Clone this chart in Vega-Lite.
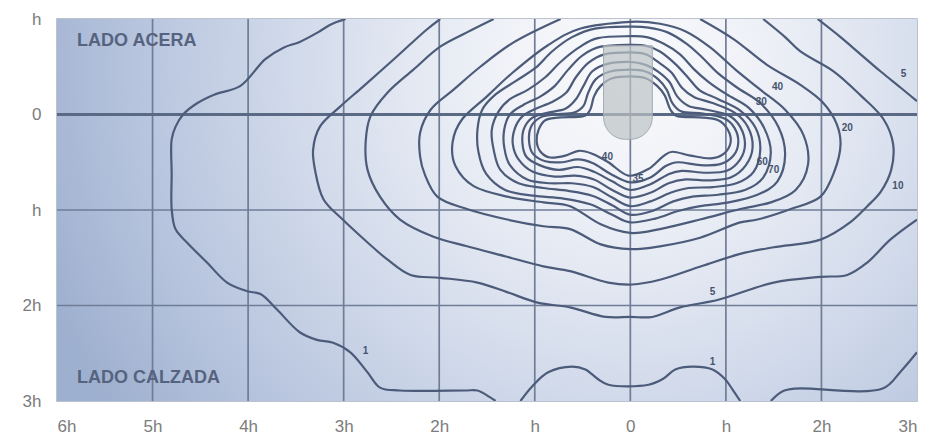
{
  "$schema": "https://vega.github.io/schema/vega-lite/v6.json",
  "width": 860,
  "height": 382,
  "autosize": {"type": "none"},
  "padding": {"left": 57, "top": 19, "right": 13, "bottom": 43},
  "background": "white",
  "datasets": {
    "abiertas": [
      {"c":"1a","x":-2.98,"y":-1},{"c":"1a","x":-3.14,"y":-0.94},{"c":"1a","x":-3.27,"y":-0.86},{"c":"1a","x":-3.46,"y":-0.76},{"c":"1a","x":-3.63,"y":-0.70},{"c":"1a","x":-3.82,"y":-0.58},{"c":"1a","x":-4.08,"y":-0.30},{"c":"1a","x":-4.35,"y":-0.21},{"c":"1a","x":-4.53,"y":-0.12},{"c":"1a","x":-4.68,"y":0},{"c":"1a","x":-4.76,"y":0.13},{"c":"1a","x":-4.80,"y":0.26},{"c":"1a","x":-4.80,"y":0.63},{"c":"1a","x":-4.80,"y":0.99},{"c":"1a","x":-4.76,"y":1.20},{"c":"1a","x":-4.64,"y":1.34},{"c":"1a","x":-4.43,"y":1.55},{"c":"1a","x":-4.22,"y":1.76},{"c":"1a","x":-4.01,"y":1.85},{"c":"1a","x":-3.87,"y":1.88},{"c":"1a","x":-3.70,"y":2.04},{"c":"1a","x":-3.46,"y":2.28},{"c":"1a","x":-3.28,"y":2.36},{"c":"1a","x":-3.11,"y":2.39},{"c":"1a","x":-2.93,"y":2.49},{"c":"1a","x":-2.75,"y":2.70},{"c":"1a","x":-2.62,"y":2.86},{"c":"1a","x":-2.41,"y":2.89},{"c":"1a","x":-1.73,"y":2.89},{"c":"1a","x":-1.60,"y":2.89},{"c":"1a","x":-1.47,"y":2.96},{"c":"1a","x":-1.41,"y":3.0},
      {"c":"1b","x":-1.15,"y":3.0},{"c":"1b","x":-1.03,"y":2.85},{"c":"1b","x":-0.86,"y":2.70},{"c":"1b","x":-0.61,"y":2.64},{"c":"1b","x":-0.47,"y":2.67},{"c":"1b","x":-0.34,"y":2.77},{"c":"1b","x":-0.23,"y":2.83},{"c":"1b","x":0.19,"y":2.83},{"c":"1b","x":0.34,"y":2.77},{"c":"1b","x":0.47,"y":2.67},{"c":"1b","x":0.65,"y":2.64},{"c":"1b","x":0.86,"y":2.67},{"c":"1b","x":0.99,"y":2.77},{"c":"1b","x":1.07,"y":2.88},{"c":"1b","x":1.15,"y":3.0},
      {"c":"1c","x":1.47,"y":3.0},{"c":"1c","x":1.59,"y":2.90},{"c":"1c","x":1.73,"y":2.87},{"c":"1c","x":2.64,"y":2.87},{"c":"1c","x":2.83,"y":2.69},{"c":"1c","x":3.0,"y":2.49},
      {"c":"5a","x":-1.99,"y":-1},{"c":"5a","x":-2.13,"y":-0.89},{"c":"5a","x":-2.44,"y":-0.61},{"c":"5a","x":-2.80,"y":-0.29},{"c":"5a","x":-3.04,"y":-0.08},{"c":"5a","x":-3.25,"y":0.13},{"c":"5a","x":-3.32,"y":0.37},{"c":"5a","x":-3.30,"y":0.58},{"c":"5a","x":-3.21,"y":0.89},{"c":"5a","x":-3.01,"y":1.10},{"c":"5a","x":-2.75,"y":1.34},{"c":"5a","x":-2.54,"y":1.52},{"c":"5a","x":-2.30,"y":1.68},{"c":"5a","x":-1.99,"y":1.71},{"c":"5a","x":-1.60,"y":1.76},{"c":"5a","x":-1.29,"y":1.86},{"c":"5a","x":-0.97,"y":1.97},{"c":"5a","x":-0.63,"y":2.02},{"c":"5a","x":-0.26,"y":2.12},{"c":"5a","x":0,"y":2.12},{"c":"5a","x":0.23,"y":2.12},{"c":"5a","x":0.52,"y":2.02},{"c":"5a","x":0.92,"y":1.94},{"c":"5a","x":1.50,"y":1.76},{"c":"5a","x":1.99,"y":1.70},{"c":"5a","x":2.27,"y":1.68},{"c":"5a","x":2.48,"y":1.55},{"c":"5a","x":2.72,"y":1.31},{"c":"5a","x":3.0,"y":1.10},
      {"c":"5b","x":1.96,"y":-1},{"c":"5b","x":2.20,"y":-0.81},{"c":"5b","x":2.41,"y":-0.63},{"c":"5b","x":2.62,"y":-0.45},{"c":"5b","x":2.83,"y":-0.28},{"c":"5b","x":3.0,"y":-0.14},
      {"c":"10","x":-1.43,"y":-1},{"c":"10","x":-1.71,"y":-0.86},{"c":"10","x":-1.99,"y":-0.71},{"c":"10","x":-2.27,"y":-0.47},{"c":"10","x":-2.54,"y":-0.23},{"c":"10","x":-2.72,"y":0.02},{"c":"10","x":-2.77,"y":0.29},{"c":"10","x":-2.75,"y":0.58},{"c":"10","x":-2.62,"y":0.86},{"c":"10","x":-2.41,"y":1.10},{"c":"10","x":-2.06,"y":1.28},{"c":"10","x":-1.71,"y":1.38},{"c":"10","x":-1.29,"y":1.49},{"c":"10","x":-0.91,"y":1.59},{"c":"10","x":-0.63,"y":1.64},{"c":"10","x":-0.23,"y":1.76},{"c":"10","x":0.02,"y":1.78},{"c":"10","x":0.31,"y":1.73},{"c":"10","x":0.71,"y":1.60},{"c":"10","x":1.15,"y":1.46},{"c":"10","x":1.50,"y":1.39},{"c":"10","x":1.99,"y":1.31},{"c":"10","x":2.30,"y":1.13},{"c":"10","x":2.48,"y":0.96},{"c":"10","x":2.62,"y":0.81},{"c":"10","x":2.73,"y":0.58},{"c":"10","x":2.75,"y":0.31},{"c":"10","x":2.65,"y":0.05},{"c":"10","x":2.41,"y":-0.20},{"c":"10","x":2.13,"y":-0.45},{"c":"10","x":1.78,"y":-0.66},{"c":"10","x":1.62,"y":-0.81},{"c":"10","x":1.39,"y":-1},
      {"c":"20","x":-0.73,"y":-1},{"c":"20","x":-1.23,"y":-0.75},{"c":"20","x":-1.57,"y":-0.50},{"c":"20","x":-1.85,"y":-0.26},{"c":"20","x":-2.09,"y":-0.05},{"c":"20","x":-2.20,"y":0.19},{"c":"20","x":-2.20,"y":0.44},{"c":"20","x":-2.15,"y":0.63},{"c":"20","x":-2.02,"y":0.86},{"c":"20","x":-1.71,"y":0.99},{"c":"20","x":-1.29,"y":1.10},{"c":"20","x":-0.91,"y":1.17},{"c":"20","x":-0.63,"y":1.20},{"c":"20","x":-0.31,"y":1.36},{"c":"20","x":0,"y":1.41},{"c":"20","x":0.31,"y":1.38},{"c":"20","x":0.73,"y":1.29},{"c":"20","x":1.15,"y":1.13},{"c":"20","x":1.33,"y":1.10},{"c":"20","x":1.68,"y":0.99},{"c":"20","x":1.99,"y":0.86},{"c":"20","x":2.13,"y":0.61},{"c":"20","x":2.20,"y":0.31},{"c":"20","x":2.16,"y":0.10},{"c":"20","x":2.01,"y":-0.13},{"c":"20","x":1.78,"y":-0.31},{"c":"20","x":1.43,"y":-0.52},{"c":"20","x":1.08,"y":-0.79},{"c":"20","x":0.73,"y":-1}
    ],
    "cerradas": [
      {"c":"c5","x":0,"y":-0.97},{"c":"c5","x":-0.52,"y":-0.90},{"c":"c5","x":-0.87,"y":-0.72},{"c":"c5","x":-1.23,"y":-0.44},{"c":"c5","x":-1.50,"y":-0.19},{"c":"c5","x":-1.76,"y":0.05},{"c":"c5","x":-1.86,"y":0.29},{"c":"c5","x":-1.83,"y":0.54},{"c":"c5","x":-1.64,"y":0.75},{"c":"c5","x":-1.29,"y":0.86},{"c":"c5","x":-0.91,"y":0.92},{"c":"c5","x":-0.63,"y":0.96},{"c":"c5","x":-0.31,"y":1.15},{"c":"c5","x":0,"y":1.24},{"c":"c5","x":0.31,"y":1.20},{"c":"c5","x":0.73,"y":1.10},{"c":"c5","x":1.15,"y":0.99},{"c":"c5","x":1.47,"y":0.92},{"c":"c5","x":1.73,"y":0.79},{"c":"c5","x":1.86,"y":0.52},{"c":"c5","x":1.81,"y":0.21},{"c":"c5","x":1.62,"y":-0.05},{"c":"c5","x":1.36,"y":-0.26},{"c":"c5","x":1.10,"y":-0.47},{"c":"c5","x":0.84,"y":-0.70},{"c":"c5","x":0.58,"y":-0.87},{"c":"c5","x":0.31,"y":-0.95},
      {"c":"c6","x":0,"y":-0.92},{"c":"c6","x":-0.37,"y":-0.90},{"c":"c6","x":-0.61,"y":-0.81},{"c":"c6","x":-0.82,"y":-0.66},{"c":"c6","x":-0.99,"y":-0.49},{"c":"c6","x":-1.20,"y":-0.35},{"c":"c6","x":-1.41,"y":-0.21},{"c":"c6","x":-1.55,"y":-0.05},{"c":"c6","x":-1.60,"y":0.16},{"c":"c6","x":-1.59,"y":0.39},{"c":"c6","x":-1.51,"y":0.62},{"c":"c6","x":-1.31,"y":0.79},{"c":"c6","x":-1.02,"y":0.85},{"c":"c6","x":-0.70,"y":0.88},{"c":"c6","x":-0.42,"y":0.94},{"c":"c6","x":-0.19,"y":1.05},{"c":"c6","x":0,"y":1.13},{"c":"c6","x":0.26,"y":1.09},{"c":"c6","x":0.50,"y":1.01},{"c":"c6","x":0.73,"y":0.96},{"c":"c6","x":1.03,"y":0.92},{"c":"c6","x":1.33,"y":0.84},{"c":"c6","x":1.54,"y":0.70},{"c":"c6","x":1.62,"y":0.42},{"c":"c6","x":1.55,"y":0.13},{"c":"c6","x":1.36,"y":-0.12},{"c":"c6","x":1.12,"y":-0.28},{"c":"c6","x":0.92,"y":-0.43},{"c":"c6","x":0.75,"y":-0.60},{"c":"c6","x":0.59,"y":-0.74},{"c":"c6","x":0.39,"y":-0.86},{"c":"c6","x":0.19,"y":-0.91},
      {"c":"c7","x":0,"y":-0.82},{"c":"c7","x":-0.34,"y":-0.80},{"c":"c7","x":-0.54,"y":-0.70},{"c":"c7","x":-0.73,"y":-0.55},{"c":"c7","x":-0.89,"y":-0.39},{"c":"c7","x":-1.07,"y":-0.26},{"c":"c7","x":-1.26,"y":-0.16},{"c":"c7","x":-1.38,"y":-0.03},{"c":"c7","x":-1.45,"y":0.16},{"c":"c7","x":-1.43,"y":0.37},{"c":"c7","x":-1.36,"y":0.58},{"c":"c7","x":-1.17,"y":0.72},{"c":"c7","x":-0.91,"y":0.77},{"c":"c7","x":-0.65,"y":0.80},{"c":"c7","x":-0.40,"y":0.85},{"c":"c7","x":-0.19,"y":0.95},{"c":"c7","x":0,"y":1.05},{"c":"c7","x":0.23,"y":1.01},{"c":"c7","x":0.45,"y":0.91},{"c":"c7","x":0.65,"y":0.86},{"c":"c7","x":0.92,"y":0.84},{"c":"c7","x":1.20,"y":0.79},{"c":"c7","x":1.39,"y":0.66},{"c":"c7","x":1.47,"y":0.40},{"c":"c7","x":1.40,"y":0.14},{"c":"c7","x":1.24,"y":-0.07},{"c":"c7","x":1.01,"y":-0.21},{"c":"c7","x":0.82,"y":-0.34},{"c":"c7","x":0.67,"y":-0.47},{"c":"c7","x":0.52,"y":-0.63},{"c":"c7","x":0.35,"y":-0.74},{"c":"c7","x":0.17,"y":-0.81},
      {"c":"c8","x":0,"y":-0.73},{"c":"c8","x":-0.31,"y":-0.71},{"c":"c8","x":-0.50,"y":-0.62},{"c":"c8","x":-0.65,"y":-0.47},{"c":"c8","x":-0.79,"y":-0.30},{"c":"c8","x":-0.94,"y":-0.19},{"c":"c8","x":-1.12,"y":-0.10},{"c":"c8","x":-1.26,"y":0},{"c":"c8","x":-1.32,"y":0.16},{"c":"c8","x":-1.32,"y":0.34},{"c":"c8","x":-1.26,"y":0.53},{"c":"c8","x":-1.08,"y":0.68},{"c":"c8","x":-0.84,"y":0.72},{"c":"c8","x":-0.61,"y":0.72},{"c":"c8","x":-0.39,"y":0.76},{"c":"c8","x":-0.19,"y":0.87},{"c":"c8","x":0,"y":0.96},{"c":"c8","x":0.21,"y":0.91},{"c":"c8","x":0.42,"y":0.82},{"c":"c8","x":0.61,"y":0.77},{"c":"c8","x":0.86,"y":0.76},{"c":"c8","x":1.11,"y":0.72},{"c":"c8","x":1.29,"y":0.60},{"c":"c8","x":1.36,"y":0.37},{"c":"c8","x":1.31,"y":0.14},{"c":"c8","x":1.15,"y":-0.04},{"c":"c8","x":0.92,"y":-0.16},{"c":"c8","x":0.73,"y":-0.25},{"c":"c8","x":0.61,"y":-0.38},{"c":"c8","x":0.47,"y":-0.53},{"c":"c8","x":0.31,"y":-0.66},{"c":"c8","x":0.16,"y":-0.72},
      {"c":"c9","x":0,"y":-0.65},{"c":"c9","x":-0.27,"y":-0.63},{"c":"c9","x":-0.44,"y":-0.54},{"c":"c9","x":-0.57,"y":-0.39},{"c":"c9","x":-0.67,"y":-0.23},{"c":"c9","x":-0.82,"y":-0.13},{"c":"c9","x":-0.99,"y":-0.06},{"c":"c9","x":-1.13,"y":0.02},{"c":"c9","x":-1.21,"y":0.15},{"c":"c9","x":-1.23,"y":0.31},{"c":"c9","x":-1.17,"y":0.47},{"c":"c9","x":-1.02,"y":0.60},{"c":"c9","x":-0.79,"y":0.65},{"c":"c9","x":-0.58,"y":0.64},{"c":"c9","x":-0.38,"y":0.68},{"c":"c9","x":-0.19,"y":0.79},{"c":"c9","x":0,"y":0.87},{"c":"c9","x":0.21,"y":0.82},{"c":"c9","x":0.40,"y":0.72},{"c":"c9","x":0.58,"y":0.68},{"c":"c9","x":0.82,"y":0.69},{"c":"c9","x":1.05,"y":0.66},{"c":"c9","x":1.21,"y":0.53},{"c":"c9","x":1.28,"y":0.34},{"c":"c9","x":1.23,"y":0.13},{"c":"c9","x":1.09,"y":-0.02},{"c":"c9","x":0.86,"y":-0.12},{"c":"c9","x":0.67,"y":-0.18},{"c":"c9","x":0.54,"y":-0.28},{"c":"c9","x":0.43,"y":-0.44},{"c":"c9","x":0.29,"y":-0.55},{"c":"c9","x":0.16,"y":-0.63},
      {"c":"c10","x":0,"y":-0.55},{"c":"c10","x":-0.24,"y":-0.53},{"c":"c10","x":-0.40,"y":-0.45},{"c":"c10","x":-0.49,"y":-0.30},{"c":"c10","x":-0.57,"y":-0.16},{"c":"c10","x":-0.68,"y":-0.06},{"c":"c10","x":-0.86,"y":-0.02},{"c":"c10","x":-1.02,"y":0.03},{"c":"c10","x":-1.11,"y":0.14},{"c":"c10","x":-1.13,"y":0.29},{"c":"c10","x":-1.09,"y":0.44},{"c":"c10","x":-0.95,"y":0.53},{"c":"c10","x":-0.75,"y":0.58},{"c":"c10","x":-0.55,"y":0.55},{"c":"c10","x":-0.38,"y":0.60},{"c":"c10","x":-0.19,"y":0.70},{"c":"c10","x":0,"y":0.79},{"c":"c10","x":0.21,"y":0.73},{"c":"c10","x":0.39,"y":0.63},{"c":"c10","x":0.54,"y":0.59},{"c":"c10","x":0.79,"y":0.61},{"c":"c10","x":1.01,"y":0.59},{"c":"c10","x":1.15,"y":0.47},{"c":"c10","x":1.20,"y":0.31},{"c":"c10","x":1.15,"y":0.13},{"c":"c10","x":1.03,"y":0.01},{"c":"c10","x":0.80,"y":-0.05},{"c":"c10","x":0.61,"y":-0.09},{"c":"c10","x":0.49,"y":-0.19},{"c":"c10","x":0.41,"y":-0.34},{"c":"c10","x":0.29,"y":-0.45},{"c":"c10","x":0.16,"y":-0.52},
      {"c":"c11","x":0,"y":-0.47},{"c":"c11","x":-0.21,"y":-0.45},{"c":"c11","x":-0.36,"y":-0.37},{"c":"c11","x":-0.44,"y":-0.23},{"c":"c11","x":-0.49,"y":-0.09},{"c":"c11","x":-0.59,"y":-0.02},{"c":"c11","x":-0.79,"y":0},{"c":"c11","x":-0.94,"y":0.03},{"c":"c11","x":-1.04,"y":0.13},{"c":"c11","x":-1.06,"y":0.28},{"c":"c11","x":-1.02,"y":0.41},{"c":"c11","x":-0.89,"y":0.49},{"c":"c11","x":-0.71,"y":0.50},{"c":"c11","x":-0.55,"y":0.47},{"c":"c11","x":-0.39,"y":0.51},{"c":"c11","x":-0.21,"y":0.62},{"c":"c11","x":0,"y":0.71},{"c":"c11","x":0.21,"y":0.66},{"c":"c11","x":0.37,"y":0.54},{"c":"c11","x":0.50,"y":0.50},{"c":"c11","x":0.73,"y":0.53},{"c":"c11","x":0.94,"y":0.52},{"c":"c11","x":1.08,"y":0.43},{"c":"c11","x":1.13,"y":0.29},{"c":"c11","x":1.09,"y":0.14},{"c":"c11","x":0.98,"y":0.04},{"c":"c11","x":0.76,"y":-0.01},{"c":"c11","x":0.54,"y":-0.03},{"c":"c11","x":0.44,"y":-0.12},{"c":"c11","x":0.38,"y":-0.26},{"c":"c11","x":0.29,"y":-0.37},{"c":"c11","x":0.16,"y":-0.45},
      {"c":"c12","x":0,"y":-0.40},{"c":"c12","x":-0.19,"y":-0.38},{"c":"c12","x":-0.31,"y":-0.30},{"c":"c12","x":-0.38,"y":-0.19},{"c":"c12","x":-0.42,"y":-0.05},{"c":"c12","x":-0.50,"y":0.02},{"c":"c12","x":-0.73,"y":0.03},{"c":"c12","x":-0.89,"y":0.06},{"c":"c12","x":-0.96,"y":0.16},{"c":"c12","x":-0.98,"y":0.28},{"c":"c12","x":-0.94,"y":0.39},{"c":"c12","x":-0.84,"y":0.45},{"c":"c12","x":-0.68,"y":0.43},{"c":"c12","x":-0.54,"y":0.38},{"c":"c12","x":-0.40,"y":0.41},{"c":"c12","x":-0.23,"y":0.50},{"c":"c12","x":-0.02,"y":0.64},{"c":"c12","x":0.19,"y":0.57},{"c":"c12","x":0.34,"y":0.44},{"c":"c12","x":0.44,"y":0.39},{"c":"c12","x":0.63,"y":0.43},{"c":"c12","x":0.84,"y":0.46},{"c":"c12","x":0.98,"y":0.41},{"c":"c12","x":1.05,"y":0.29},{"c":"c12","x":1.02,"y":0.16},{"c":"c12","x":0.92,"y":0.06},{"c":"c12","x":0.73,"y":0.03},{"c":"c12","x":0.50,"y":0.02},{"c":"c12","x":0.42,"y":-0.05},{"c":"c12","x":0.36,"y":-0.20},{"c":"c12","x":0.28,"y":-0.30},{"c":"c12","x":0.16,"y":-0.38}
    ],
    "etiquetas": [
      {"t":"1","x":-2.77,"y":2.48},
      {"t":"1","x":0.86,"y":2.59},
      {"t":"5","x":0.86,"y":1.86},
      {"t":"5","x":2.86,"y":-0.42},
      {"t":"10","x":2.80,"y":0.75},
      {"t":"20","x":2.27,"y":0.14},
      {"t":"40","x":1.54,"y":-0.29},
      {"t":"30","x":1.37,"y":-0.13},
      {"t":"40","x":-0.24,"y":0.45},
      {"t":"35","x":0.08,"y":0.68},
      {"t":"60","x":1.38,"y":0.50},
      {"t":"70","x":1.50,"y":0.58}
    ],
    "zonas": [
      {"t":"LADO ACERA","x":-5.79,"y":-0.77},
      {"t":"LADO CALZADA","x":-5.79,"y":2.76}
    ],
    "luminaria": [
      {"x":-0.28,"xb":0.23,"y":-0.72,"yb":0.26}
    ],
    "rejilla_x": [{"x":-5},{"x":-4},{"x":-3},{"x":-2},{"x":-1},{"x":0},{"x":1},{"x":2}],
    "rejilla_y": [{"y":1},{"y":2}]
  },
  "layer": [
    {
      "data": {"values": [{"fondo": "plano"}]},
      "mark": {
        "type": "rect",
        "color": {
          "gradient": "radial",
          "x1": 0.66, "y1": 0.33, "r1": 0,
          "x2": 0.66, "y2": 0.33, "r2": 0.72,
          "stops": [
            {"offset": 0, "color": "#f9fafc"},
            {"offset": 0.18, "color": "#f1f3f8"},
            {"offset": 0.35, "color": "#e3e8f2"},
            {"offset": 0.55, "color": "#d0d9ea"},
            {"offset": 0.78, "color": "#b8c5de"},
            {"offset": 1, "color": "#9eb0cf"}
          ]
        }
      },
      "encoding": {
        "x": {"datum": -6, "type": "quantitative"},
        "x2": {"datum": 3},
        "y": {"datum": -1, "type": "quantitative"},
        "y2": {"datum": 3}
      }
    },
    {
      "data": {"name": "rejilla_x"},
      "mark": {"type": "rule", "color": "#6f7d97", "strokeWidth": 1.7},
      "encoding": {"x": {"field": "x", "type": "quantitative", "title": null}}
    },
    {
      "data": {"name": "rejilla_y"},
      "mark": {"type": "rule", "color": "#6f7d97", "strokeWidth": 1.7},
      "encoding": {"y": {"field": "y", "type": "quantitative", "title": null}}
    },
    {
      "data": {"values": [{"eje": "0"}]},
      "mark": {"type": "rule", "color": "#5a6984", "strokeWidth": 3.2},
      "encoding": {"y": {"datum": 0, "type": "quantitative"}}
    },
    {
      "data": {"name": "abiertas"},
      "mark": {"type": "line", "interpolate": "catmull-rom", "color": "#4c5b79", "strokeWidth": 2.2, "clip": true},
      "encoding": {
        "x": {
          "field": "x", "type": "quantitative", "title": null,
          "scale": {"domain": [-6, 3], "nice": false, "zero": false},
          "axis": {
            "values": [-6, -5, -4, -3, -2, -1, 0, 1, 2, 3],
            "labelExpr": "datum.value == 0 ? '0' : (abs(datum.value) == 1 ? 'h' : abs(datum.value) + 'h')",
            "labelPadding": 17
          }
        },
        "y": {
          "field": "y", "type": "quantitative", "title": null,
          "scale": {"domain": [-1, 3], "reverse": true, "nice": false, "zero": false},
          "axis": {
            "values": [-1, 0, 1, 2, 3],
            "labelExpr": "datum.value == 0 ? '0' : (abs(datum.value) == 1 ? 'h' : abs(datum.value) + 'h')",
            "labelPadding": 16
          }
        },
        "detail": {"field": "c"},
        "order": {"value": null}
      }
    },
    {
      "data": {"name": "cerradas"},
      "mark": {"type": "line", "interpolate": "cardinal-closed", "tension": 0, "color": "#4c5b79", "strokeWidth": 2.2, "clip": true},
      "encoding": {
        "x": {"field": "x", "type": "quantitative", "title": null},
        "y": {"field": "y", "type": "quantitative", "title": null},
        "detail": {"field": "c"},
        "order": {"value": null}
      }
    },
    {
      "data": {"name": "luminaria"},
      "mark": {"type": "rect", "fill": "#bcc3c4", "fillOpacity": 0.7, "stroke": "#a3abb2", "strokeWidth": 1, "cornerRadiusBottomLeft": 22, "cornerRadiusBottomRight": 22},
      "encoding": {
        "x": {"field": "x", "type": "quantitative", "title": null},
        "x2": {"field": "xb"},
        "y": {"field": "y", "type": "quantitative", "title": null},
        "y2": {"field": "yb"}
      }
    },
    {
      "data": {"name": "etiquetas"},
      "mark": {"type": "text", "font": "Liberation Sans", "fontSize": 10, "fontWeight": "bold", "color": "#46536e"},
      "encoding": {
        "x": {"field": "x", "type": "quantitative", "title": null},
        "y": {"field": "y", "type": "quantitative", "title": null},
        "text": {"field": "t"}
      }
    },
    {
      "data": {"name": "zonas"},
      "mark": {"type": "text", "align": "left", "baseline": "middle", "font": "Liberation Sans", "fontSize": 18, "fontWeight": "bold", "color": "#56637f"},
      "encoding": {
        "x": {"field": "x", "type": "quantitative", "title": null},
        "y": {"field": "y", "type": "quantitative", "title": null},
        "text": {"field": "t"}
      }
    }
  ],
  "config": {
    "view": {"stroke": "#a7afbe", "strokeWidth": 1.5},
    "axis": {
      "grid": false,
      "domain": false,
      "ticks": false,
      "labelFont": "Liberation Sans",
      "labelFontSize": 17,
      "labelColor": "#7c7c7c"
    }
  }
}
